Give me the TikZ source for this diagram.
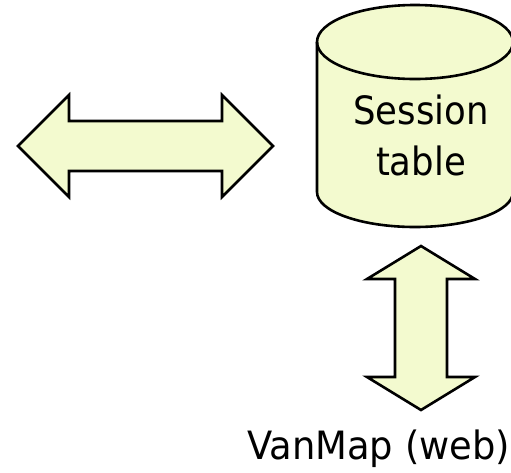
\documentclass[tikz,border=0pt]{standalone}
\usepackage{fontspec}
\newfontfamily\tahomalike[FakeStretch=0.91]{DejaVu Sans}
\newfontfamily\tahomawide[FakeStretch=0.945]{DejaVu Sans}
\definecolor{paleyellow}{RGB}{243,250,207}

\begin{document}
\begin{tikzpicture}[x=1pt, y=-1pt,
    every node/.style={font=\tahomalike\fontsize{39}{51}\selectfont, inner sep=0pt},
    shapebox/.style={fill=paleyellow, draw=black, line width=2.6pt, line join=miter}]

    % page frame, the cylinder runs off the right edge
    \useasboundingbox (0,0) rectangle (511,472);
    \clip (0,0) rectangle (511,472);

    % left-right double arrow
    \draw[shapebox] (18,146) -- (69,95) -- (69,121) -- (222,121) -- (222,95)
        -- (273,146) -- (222,197) -- (222,171) -- (69,171) -- (69,197) -- cycle;

    % session table cylinder
    \draw[shapebox] (317,42) -- (317,192) arc[start angle=180, end angle=0, x radius=98, y radius=35]
        -- (513,42) arc[start angle=0, end angle=-180, x radius=98, y radius=37] -- cycle;
    \draw[line width=2.6pt] (317,42) arc[start angle=180, end angle=0, x radius=98, y radius=37];
    \node[anchor=base, align=center] (session) at (421,175) {Session\\table};

    % up-down double arrow
    \draw[shapebox] (421,246) -- (475,279) -- (447,279) -- (447,377) -- (475,377)
        -- (421,410) -- (367,377) -- (395,377) -- (395,279) -- (367,279) -- cycle;

    \node[anchor=base west, font=\tahomawide\fontsize{39}{51}\selectfont]
        (vanmap) at (247,459) {VanMap (web)};

\end{tikzpicture}
\end{document}
